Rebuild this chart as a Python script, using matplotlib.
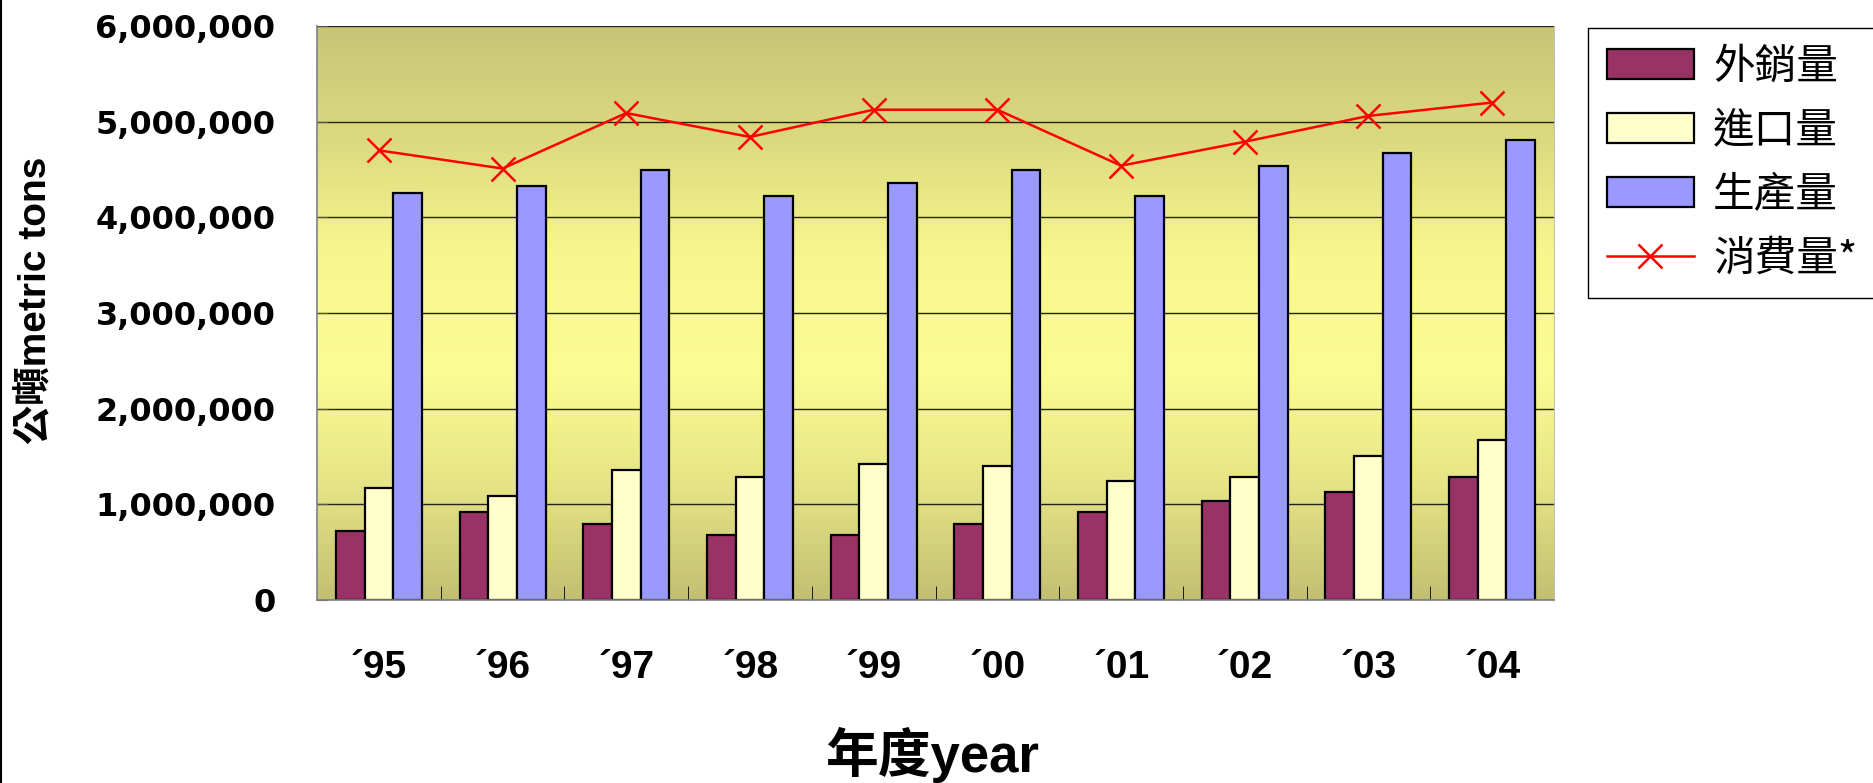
import numpy as np
import matplotlib
matplotlib.use("Agg")
import matplotlib.pyplot as plt
from matplotlib.colors import LinearSegmentedColormap
from matplotlib.lines import Line2D
from matplotlib.ticker import FixedLocator, FuncFormatter

years = ["´95", "´96", "´97", "´98", "´99", "´00", "´01", "´02", "´03", "´04"]
export_t = [725000, 925000, 790000, 675000, 675000, 790000, 925000, 1040000, 1125000, 1290000]
import_t = [1175000, 1090000, 1360000, 1290000, 1425000, 1400000, 1240000, 1290000, 1510000, 1675000]
product_t = [4250000, 4325000, 4500000, 4225000, 4360000, 4500000, 4225000, 4540000, 4675000, 4810000]
consume_t = [4700000, 4510000, 5090000, 4840000, 5125000, 5125000, 4540000, 4790000, 5060000, 5200000]
labels = ["外銷量", "進口量", "生產量", "消費量*"]

NARROW = ["Liberation Sans Narrow", "Liberation Sans", "Noto Sans CJK TC"]
CJK = ["Noto Sans CJK TC", "DejaVu Sans"]

fig = plt.figure(figsize=(18.74, 7.83), dpi=100)
ax = fig.add_axes([317 / 1874, 1 - 600 / 783, (1554 - 317) / 1874, (600 - 26) / 783])

# background gradient of the plot area
bg = LinearSegmentedColormap.from_list("bg", ["#c3bf72", "#e6e486", "#fcfc94", "#f8f78e", "#dcda80", "#c8c577"])
ax.imshow(np.linspace(0, 1, 256).reshape(-1, 1), cmap=bg, origin="lower", aspect="auto",
          extent=[-0.5, 9.5, 0, 6e6], zorder=0)

x = np.arange(len(years))
w = 0.232
kw = dict(width=w, edgecolor="black", linewidth=1.6, zorder=2)
b1 = ax.bar(x - w, export_t, color="#993366", label=labels[0], **kw)
b2 = ax.bar(x, import_t, color="#ffffcc", label=labels[1], **kw)
b3 = ax.bar(x + w, product_t, color="#9999ff", label=labels[2], **kw)
ln, = ax.plot(x, consume_t, color="red", lw=1.8, marker="x", ms=17, mew=1.8,
              label=labels[3], zorder=3)

ax.set_xlim(-0.5, 9.5)
ax.set_ylim(0, 6e6)
ax.set_yticks(np.arange(0, 6e6 + 1, 1e6))
ax.yaxis.set_major_formatter(FuncFormatter(lambda v, p: f"{int(v):,}"))
ax.set_axisbelow(True)
ax.yaxis.grid(True, color="#222222", lw=1.0, zorder=1)
ax.tick_params(axis="y", direction="in", length=8, color="#555555", pad=30, labelsize=23)
for t in ax.get_yticklabels():
    t.set_fontweight("bold")
    t.set_family("DejaVu Sans")

ax.set_xticks(x)
ax.set_xticklabels(years, family=NARROW, fontweight="bold", fontsize=28)
ax.xaxis.set_minor_locator(FixedLocator(np.arange(0.5, 9.5, 1)))
ax.tick_params(axis="x", which="major", length=0, pad=36)
ax.tick_params(axis="x", which="minor", direction="in", length=10, color="black")

for s in ["top"]:
    ax.spines[s].set_visible(False)
ax.spines["right"].set_color("#c0c0c0")
ax.spines["left"].set_color("#808080")
ax.spines["bottom"].set_color("#808080")
ax.spines["left"].set_linewidth(1.2)
ax.spines["bottom"].set_linewidth(1.2)

fig.text(932 / 1874, 1 - 755 / 783, "年度year", family=NARROW, fontweight="bold",
         fontsize=38, ha="center", va="center")
fig.text(36 / 1874, 1 - 300 / 783, "公噸metric tons", family=NARROW, fontweight="bold",
         fontsize=28, ha="center", va="center", rotation=90)

leg = fig.legend(handles=[b1, b2, b3, ln], labels=labels, loc="upper left",
                 bbox_to_anchor=(1588 / 1874, 1 - 28 / 783), prop={"family": CJK, "size": 30},
                 frameon=True, fancybox=False, edgecolor="black", framealpha=1,
                 handlelength=2.1, handleheight=0.75, handletextpad=0.45,
                 labelspacing=0.55, borderpad=0.45, borderaxespad=0)
leg.get_frame().set_linewidth(1.0)

fig.add_artist(Line2D([0.0008, 0.0008], [0, 1], color="black", lw=1.5, transform=fig.transFigure))

fig.savefig("out.png", dpi=100)
